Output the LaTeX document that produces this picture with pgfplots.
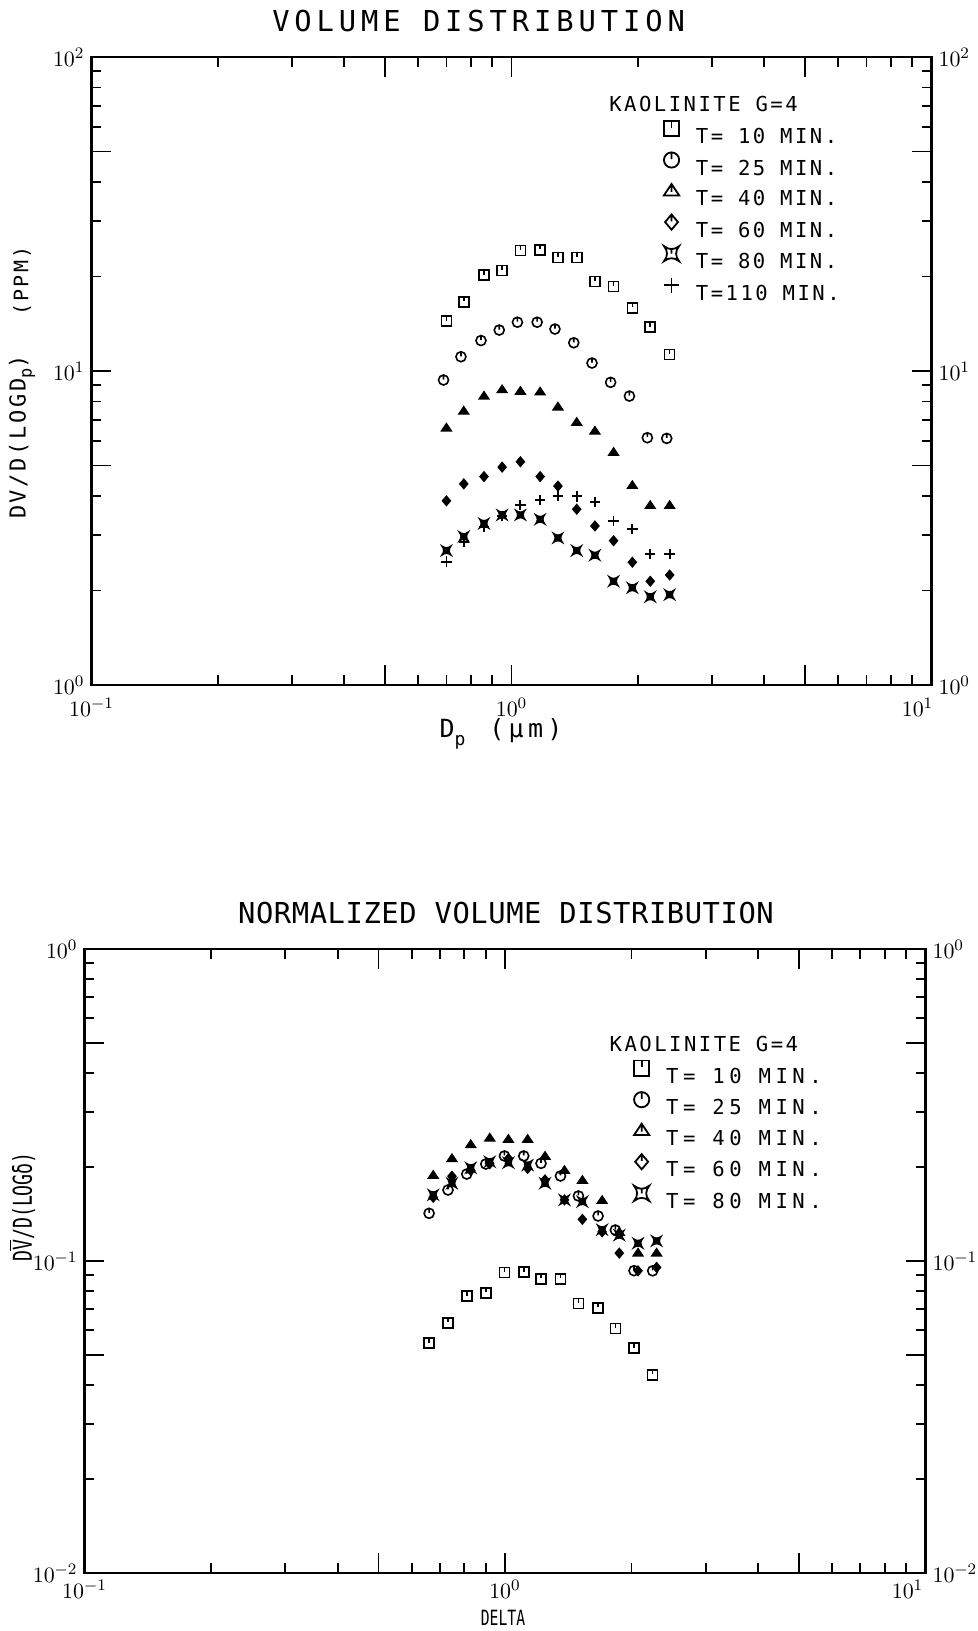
\documentclass[border=0pt]{standalone}
\usepackage{fontspec}
\usepackage{pgfplots}
\pgfplotsset{compat=1.18}
\newfontfamily\ttlA[LetterSpace=17]{DejaVu Sans Mono}
\newfontfamily\ttlB[LetterSpace=2]{DejaVu Sans Mono}
\newfontfamily\lfont[LetterSpace=12]{DejaVu Sans Mono}
\newfontfamily\lfontB[LetterSpace=22]{DejaVu Sans Mono}
\newfontfamily\cfont[FakeStretch=0.7]{DejaVu Sans Mono}

% plotter-style marks
\pgfdeclareplotmark{sqt}{%
 \pgfpathrectangle{\pgfqpoint{-\pgfplotmarksize}{-\pgfplotmarksize}}{\pgfqpoint{2\pgfplotmarksize}{2\pgfplotmarksize}}%
 \pgfpathmoveto{\pgfqpoint{0pt}{\pgfplotmarksize}}%
 \pgfpathlineto{\pgfqpoint{0pt}{0.1\pgfplotmarksize}}%
 \pgfusepathqstroke}
\pgfdeclareplotmark{cit}{%
 \pgfpathcircle{\pgfpointorigin}{\pgfplotmarksize}%
 \pgfpathmoveto{\pgfqpoint{0pt}{\pgfplotmarksize}}%
 \pgfpathlineto{\pgfqpoint{0pt}{0.1\pgfplotmarksize}}%
 \pgfusepathqstroke}
\pgfdeclareplotmark{trit}{%
 \pgfpathmoveto{\pgfqpoint{0pt}{0.85\pgfplotmarksize}}%
 \pgfpathlineto{\pgfqpoint{-\pgfplotmarksize}{-0.65\pgfplotmarksize}}%
 \pgfpathlineto{\pgfqpoint{\pgfplotmarksize}{-0.65\pgfplotmarksize}}%
 \pgfpathclose
 \pgfpathmoveto{\pgfqpoint{0pt}{0.85\pgfplotmarksize}}%
 \pgfpathlineto{\pgfqpoint{0pt}{-0.2\pgfplotmarksize}}%
 \pgfusepathqstroke}
\pgfdeclareplotmark{trif}{%
 \pgfpathmoveto{\pgfqpoint{0pt}{0.85\pgfplotmarksize}}%
 \pgfpathlineto{\pgfqpoint{-\pgfplotmarksize}{-0.65\pgfplotmarksize}}%
 \pgfpathlineto{\pgfqpoint{\pgfplotmarksize}{-0.65\pgfplotmarksize}}%
 \pgfpathclose
 \pgfusepathqfillstroke}
\pgfdeclareplotmark{diat}{%
 \pgfpathmoveto{\pgfqpoint{0pt}{\pgfplotmarksize}}%
 \pgfpathlineto{\pgfqpoint{0.85\pgfplotmarksize}{0pt}}%
 \pgfpathlineto{\pgfqpoint{0pt}{-\pgfplotmarksize}}%
 \pgfpathlineto{\pgfqpoint{-0.85\pgfplotmarksize}{0pt}}%
 \pgfpathclose
 \pgfpathmoveto{\pgfqpoint{0pt}{\pgfplotmarksize}}%
 \pgfpathlineto{\pgfqpoint{0pt}{0.1\pgfplotmarksize}}%
 \pgfusepathqstroke}
\pgfdeclareplotmark{diaf}{%
 \pgfpathmoveto{\pgfqpoint{0pt}{\pgfplotmarksize}}%
 \pgfpathlineto{\pgfqpoint{0.85\pgfplotmarksize}{0pt}}%
 \pgfpathlineto{\pgfqpoint{0pt}{-\pgfplotmarksize}}%
 \pgfpathlineto{\pgfqpoint{-0.85\pgfplotmarksize}{0pt}}%
 \pgfpathclose
 \pgfusepathqfillstroke}
\pgfdeclareplotmark{xst}{%
 \pgfpathmoveto{\pgfqpoint{-\pgfplotmarksize}{-\pgfplotmarksize}}%
 \pgfpathquadraticcurveto{\pgfqpoint{0pt}{-0.2\pgfplotmarksize}}{\pgfqpoint{\pgfplotmarksize}{-\pgfplotmarksize}}%
 \pgfpathquadraticcurveto{\pgfqpoint{0.2\pgfplotmarksize}{0pt}}{\pgfqpoint{\pgfplotmarksize}{\pgfplotmarksize}}%
 \pgfpathquadraticcurveto{\pgfqpoint{0pt}{0.2\pgfplotmarksize}}{\pgfqpoint{-\pgfplotmarksize}{\pgfplotmarksize}}%
 \pgfpathquadraticcurveto{\pgfqpoint{-0.2\pgfplotmarksize}{0pt}}{\pgfqpoint{-\pgfplotmarksize}{-\pgfplotmarksize}}%
 \pgfpathclose
 \pgfpathmoveto{\pgfqpoint{0pt}{0.55\pgfplotmarksize}}%
 \pgfpathlineto{\pgfqpoint{0pt}{0pt}}%
 \pgfusepathqstroke}
\pgfdeclareplotmark{xsf}{%
 \pgfpathmoveto{\pgfqpoint{-\pgfplotmarksize}{-\pgfplotmarksize}}%
 \pgfpathquadraticcurveto{\pgfqpoint{0pt}{-0.2\pgfplotmarksize}}{\pgfqpoint{\pgfplotmarksize}{-\pgfplotmarksize}}%
 \pgfpathquadraticcurveto{\pgfqpoint{0.2\pgfplotmarksize}{0pt}}{\pgfqpoint{\pgfplotmarksize}{\pgfplotmarksize}}%
 \pgfpathquadraticcurveto{\pgfqpoint{0pt}{0.2\pgfplotmarksize}}{\pgfqpoint{-\pgfplotmarksize}{\pgfplotmarksize}}%
 \pgfpathquadraticcurveto{\pgfqpoint{-0.2\pgfplotmarksize}{0pt}}{\pgfqpoint{-\pgfplotmarksize}{-\pgfplotmarksize}}%
 \pgfpathclose
 \pgfusepathqfillstroke}

\begin{document}
\begin{tikzpicture}
\useasboundingbox (0,0) rectangle (489pt,815.5pt);

% ================= TOP =================
\begin{axis}[
  at={(45.75pt,473pt)}, anchor=south west, width=420pt, height=314pt,
  scale only axis, xmode=log, ymode=log, xmin=0.1, xmax=10,
  ymin=1, ymax=100,
  axis line style={line width=1.2pt},
  tick style={black, line width=0.9pt},
  major tick length=10pt, minor tick length=5pt, tick align=inside,
  xtick={0.1,1,10}, xticklabels={$10^{-1}$,$10^{0}$,$10^{1}$\rule{14pt}{0pt}},
  extra x ticks={0.5,5}, extra x tick labels={},
  ytick={1,10,100}, extra y ticks={5,50}, extra y tick labels={},
  extra tick style={major tick length=10pt},
  tick label style={font=\fontsize{11}{13}\selectfont},
  xticklabel style={yshift=-3pt},
  legend image code/.code={\draw[#1] plot coordinates {(0pt,3.75pt)};},
  legend cell align=left,
  legend style={draw=none, fill=none, at={(0.681,0.899)}, anchor=north west,
    inner sep=0pt, row sep=4.5pt, column sep=8.4pt,
    font=\lfont\fontsize{10.3}{12}\selectfont,
    nodes={inner sep=0pt, text height=7.5pt, text depth=0pt}},
]
\addplot[only marks, mark=sqt, mark size=2.5pt, line width=0.8pt, forget plot] coordinates {(0.70,14.4)(0.77,16.6)(0.86,20.2)(0.95,20.9)(1.05,24.2)(1.17,24.3)(1.29,23.0)(1.43,23.0)(1.58,19.3)(1.75,18.6)(1.94,15.9)(2.14,13.8)(2.38,11.3)};
\addplot[only marks, mark=cit, mark size=2.5pt, line width=0.8pt, forget plot] coordinates {(0.689,9.36)(0.758,11.1)(0.846,12.5)(0.935,13.5)(1.033,14.3)(1.151,14.3)(1.269,13.6)(1.407,12.3)(1.555,10.6)(1.722,9.2)(1.909,8.32)(2.106,6.13)(2.342,6.10)};
\addplot[only marks, mark=trif, mark size=2.5pt, line width=0.6pt, mark options={fill=black}, forget plot] coordinates {(0.70,6.60)(0.77,7.47)(0.86,8.34)(0.95,8.74)(1.05,8.64)(1.17,8.60)(1.29,7.70)(1.43,6.88)(1.58,6.45)(1.75,5.52)(1.94,4.33)(2.14,3.74)(2.38,3.74)};
\addplot[only marks, mark=diaf, mark size=2.4pt, line width=0.6pt, mark options={fill=black}, forget plot] coordinates {(0.70,3.86)(0.77,4.37)(0.86,4.61)(0.95,4.94)(1.05,5.14)(1.17,4.61)(1.29,4.30)(1.43,3.63)(1.58,3.21)(1.75,2.88)(1.94,2.46)(2.14,2.14)(2.38,2.24)};
\addplot[only marks, mark=xsf, mark size=2.4pt, line width=0.6pt, mark options={fill=black}, forget plot] coordinates {(0.70,2.68)(0.77,2.97)(0.86,3.27)(0.95,3.48)(1.05,3.48)(1.17,3.37)(1.29,2.94)(1.43,2.68)(1.58,2.59)(1.75,2.14)(1.94,2.04)(2.14,1.91)(2.38,1.94)};
\addplot[only marks, mark=+, mark size=2.6pt, line width=0.9pt, forget plot] coordinates {(0.70,2.47)(0.77,2.85)(0.86,3.19)(0.95,3.45)(1.05,3.74)(1.17,3.88)(1.29,4.00)(1.43,3.99)(1.58,3.83)(1.75,3.33)(1.94,3.14)(2.14,2.61)(2.38,2.61)};
\addlegendimage{only marks, mark size=3.8pt, line width=0.9pt, mark=sqt}\addlegendentry{T= 10 MIN.}
\addlegendimage{only marks, mark size=3.8pt, line width=0.9pt, mark=cit}\addlegendentry{T= 25 MIN.}
\addlegendimage{only marks, mark size=3.8pt, line width=0.9pt, mark=trit}\addlegendentry{T= 40 MIN.}
\addlegendimage{only marks, mark size=3.8pt, line width=0.9pt, mark=diat}\addlegendentry{T= 60 MIN.}
\addlegendimage{only marks, mark size=3.8pt, line width=0.9pt, mark=xst}\addlegendentry{T= 80 MIN.}
\addlegendimage{only marks, mark size=3.8pt, line width=0.9pt, mark=+}\addlegendentry{T=110 MIN.}
\node[anchor=west, inner sep=0pt, font=\lfont\fontsize{10.3}{12}\selectfont] at (rel axis cs:0.616,0.925) {KAOLINITE G=4};
\end{axis}
\begin{axis}[
  at={(45.75pt,473pt)}, anchor=south west, width=420pt, height=314pt,
  scale only axis, xmode=log, ymode=log, xmin=0.1, xmax=10, ymin=1, ymax=100,
  axis line style={draw=none}, tick style={draw=none},
  xtick=\empty, xminorticks=false, yminorticks=false, ytick={1,10,100},
  ytick pos=right, yticklabel pos=right,
  tick label style={font=\fontsize{11}{13}\selectfont}]
\end{axis}

% ================= BOTTOM =================
\begin{axis}[
  at={(42.25pt,29pt)}, anchor=south west, width=420.5pt, height=312pt,
  scale only axis, xmode=log, ymode=log, xmin=0.1, xmax=10,
  ymin=0.01, ymax=1,
  axis line style={line width=1.2pt},
  tick style={black, line width=0.9pt},
  major tick length=10pt, minor tick length=5pt, tick align=inside,
  xtick={0.1,1,10}, xticklabels={$10^{-1}$,$10^{0}$,$10^{1}$\rule{18pt}{0pt}},
  extra x ticks={0.5,5}, extra x tick labels={},
  ytick={0.01,0.1,1}, extra y ticks={0.05,0.5}, extra y tick labels={},
  extra tick style={major tick length=10pt},
  tick label style={font=\fontsize{11}{13}\selectfont},
  legend image code/.code={\draw[#1] plot coordinates {(0pt,3.75pt)};},
  legend cell align=left,
  legend style={draw=none, fill=none, at={(0.653,0.822)}, anchor=north west,
    inner sep=0pt, row sep=4.5pt, column sep=8.4pt,
    font=\lfontB\fontsize{10.3}{12}\selectfont,
    nodes={inner sep=0pt, text height=7.5pt, text depth=0pt}},
]
\addplot[only marks, mark=sqt, mark size=2.5pt, line width=0.8pt, forget plot] coordinates {(0.660,0.0545)(0.732,0.0634)(0.811,0.0772)(0.900,0.0791)(0.997,0.0920)(1.108,0.0921)(1.218,0.0876)(1.355,0.0876)(1.495,0.0732)(1.665,0.0708)(1.830,0.0607)(2.027,0.0526)(2.245,0.0432)};
\addplot[only marks, mark=cit, mark size=2.5pt, line width=0.8pt, forget plot] coordinates {(0.660,0.1422)(0.732,0.1689)(0.811,0.190)(0.900,0.2046)(0.997,0.2171)(1.108,0.2171)(1.218,0.2056)(1.355,0.1873)(1.495,0.1616)(1.665,0.1394)(1.830,0.1257)(2.027,0.0931)(2.245,0.0930)};
\addplot[only marks, mark=trif, mark size=2.5pt, line width=0.6pt, mark options={fill=black}, forget plot] coordinates {(0.675,0.1887)(0.748,0.2135)(0.829,0.2366)(0.920,0.2484)(1.019,0.2460)(1.132,0.2460)(1.245,0.2171)(1.385,0.1957)(1.528,0.1818)(1.702,0.1568)(1.870,0.1239)(2.072,0.1063)(2.294,0.1063)};
\addplot[only marks, mark=diaf, mark size=2.4pt, line width=0.6pt, mark options={fill=black}, forget plot] coordinates {(0.675,0.160)(0.748,0.187)(0.829,0.195)(0.920,0.205)(1.019,0.213)(1.132,0.198)(1.245,0.182)(1.385,0.157)(1.528,0.136)(1.702,0.124)(1.870,0.106)(2.072,0.093)(2.294,0.0954)};
\addplot[only marks, mark=xsf, mark size=2.4pt, line width=0.6pt, mark options={fill=black}, forget plot] coordinates {(0.675,0.163)(0.748,0.1775)(0.829,0.199)(0.920,0.208)(1.019,0.2066)(1.132,0.203)(1.245,0.1775)(1.385,0.157)(1.528,0.155)(1.702,0.126)(1.870,0.121)(2.072,0.114)(2.294,0.116)};
\addlegendimage{only marks, mark size=3.8pt, line width=0.9pt, mark=sqt}\addlegendentry{T= 10 MIN.}
\addlegendimage{only marks, mark size=3.8pt, line width=0.9pt, mark=cit}\addlegendentry{T= 25 MIN.}
\addlegendimage{only marks, mark size=3.8pt, line width=0.9pt, mark=trit}\addlegendentry{T= 40 MIN.}
\addlegendimage{only marks, mark size=3.8pt, line width=0.9pt, mark=diat}\addlegendentry{T= 60 MIN.}
\addlegendimage{only marks, mark size=3.8pt, line width=0.9pt, mark=xst}\addlegendentry{T= 80 MIN.}
\node[anchor=west, inner sep=0pt, font=\lfont\fontsize{10.3}{12}\selectfont] at (rel axis cs:0.624,0.848) {KAOLINITE G=4};
\end{axis}
\begin{axis}[
  at={(42.25pt,29pt)}, anchor=south west, width=420.5pt, height=312pt,
  scale only axis, xmode=log, ymode=log, xmin=0.1, xmax=10, ymin=0.01, ymax=1,
  axis line style={draw=none}, tick style={draw=none},
  xtick=\empty, xminorticks=false, yminorticks=false, ytick={0.01,0.1,1},
  ytick pos=right, yticklabel pos=right,
  tick label style={font=\fontsize{11}{13}\selectfont}]
\end{axis}

% ================= titles and labels =================
\node at (239.3pt,805pt) {\ttlA\fontsize{14.4}{16}\selectfont VOLUME DISTRIBUTION};
\node at (253pt,358.75pt) {\ttlB\fontsize{14.4}{16}\selectfont NORMALIZED VOLUME DISTRIBUTION};
\node at (250.5pt,448.5pt) {\ttlA\fontsize{12.5}{14}\selectfont D\raisebox{-4pt}{\fontsize{9}{10}\selectfont p}\hspace{12pt}(μm)};
\node at (251.5pt,6.5pt) {\cfont\fontsize{10.5}{12}\selectfont DELTA};
\node[rotate=90] at (11pt,597pt) {\lfont\fontsize{11}{13}\selectfont DV/D(LOGD\raisebox{-3pt}{\fontsize{8.5}{10}\selectfont p})};
\node[rotate=90] at (11pt,675pt) {\lfont\fontsize{10}{12}\selectfont (PPM)};
\node[rotate=90] at (11pt,212pt) {\cfont\fontsize{13}{15}\selectfont D$\overline{\hbox{V}}$/D(LOGδ)};
\end{tikzpicture}
\end{document}
